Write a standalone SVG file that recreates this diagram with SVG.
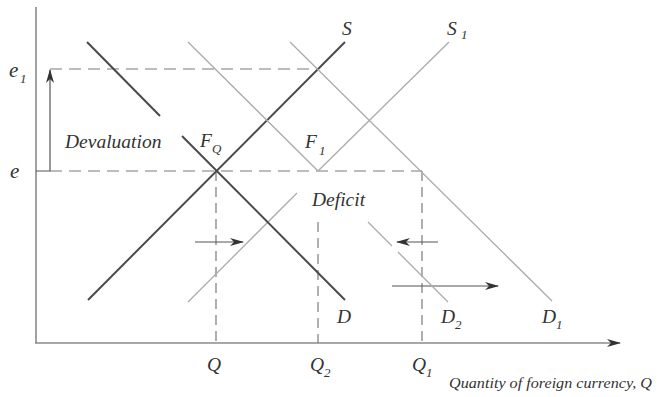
<svg xmlns="http://www.w3.org/2000/svg" width="658" height="397" viewBox="0 0 658 397">
<defs>
<marker id="ah" viewBox="0 0 14 8" refX="13" refY="4" markerWidth="14" markerHeight="8" markerUnits="userSpaceOnUse" orient="auto">
<path d="M0,0 L14,4 L0,8 L4,4 Z" fill="#333"/>
</marker>
</defs>
<style>
.axis{stroke:#8a8a8a;stroke-width:1.6;fill:none}
.dark{stroke:#4a4a4a;stroke-width:2;fill:none}
.light{stroke:#ababab;stroke-width:1.3;fill:none}
.dash{stroke:#7a7a7a;stroke-width:1.2;stroke-dasharray:12 7;fill:none}
.vdash{stroke:#7a7a7a;stroke-width:1.2;stroke-dasharray:10 6;fill:none}
.arr{stroke:#555;stroke-width:1.2;fill:none}
text{font-family:"Liberation Serif","Times New Roman",serif;font-style:italic;fill:#333}
.lab{font-size:19.5px}
.sub{font-size:13px}
</style>
<rect width="658" height="397" fill="#fff"/>
<g id="axes">
<line class="axis" x1="36" y1="7" x2="36" y2="343"/>
<line class="axis" x1="35" y1="343" x2="620" y2="343" marker-end="url(#ah)"/>
</g>
<g id="connectors">
<line class="dash" x1="50" y1="69" x2="319" y2="69"/>
<polyline class="arr" points="36,171 50,171 50,70" marker-end="url(#ah)"/>
<line class="dash" x1="50" y1="171" x2="422" y2="171"/>
<line class="vdash" x1="216" y1="171" x2="216" y2="343"/>
<line class="vdash" x1="318" y1="222" x2="318" y2="343"/>
<line class="vdash" x1="422" y1="171" x2="422" y2="343"/>
<line class="arr" x1="195" y1="242" x2="243" y2="242" marker-end="url(#ah)"/>
<line class="arr" x1="438" y1="242" x2="397" y2="242" marker-end="url(#ah)"/>
<line class="arr" x1="392" y1="286" x2="498" y2="286" marker-end="url(#ah)"/>
</g>
<g id="S">
<line class="dark" x1="88" y1="300" x2="345" y2="42"/>
<text class="lab" x="342" y="35">S</text>
</g>
<g id="S1">
<line class="light" x1="188" y1="302" x2="297" y2="193"/>
<line class="light" x1="318" y1="171" x2="449" y2="42"/>
<text class="lab" x="447" y="35">S</text><text class="sub" x="461" y="39">1</text>
</g>
<g id="D">
<line class="dark" x1="87" y1="42" x2="160" y2="116"/>
<line class="dark" x1="182" y1="136" x2="345" y2="300"/>
<text class="lab" x="337" y="323">D</text>
</g>
<g id="D1">
<line class="light" x1="290" y1="42" x2="552" y2="301"/>
<text class="lab" x="542" y="323">D</text><text class="sub" x="556" y="329">1</text>
</g>
<g id="D2">
<line class="light" x1="188" y1="42" x2="318" y2="171"/>
<line class="light" x1="368" y1="222" x2="392" y2="246"/>
<line class="light" x1="398" y1="252" x2="448" y2="302"/>
<text class="lab" x="441" y="323">D</text><text class="sub" x="455" y="329">2</text>
</g>
<g id="FQ">
<text class="lab" x="200" y="147">F</text><text class="sub" x="212" y="153">Q</text>
</g>
<g id="F1">
<text class="lab" x="305" y="148">F</text><text class="sub" x="319" y="155">1</text>
</g>
<g id="labels">
<text class="lab" x="65" y="148">Devaluation</text>
<text class="lab" x="312" y="206">Deficit</text>
<text class="lab" x="9" y="77" style="font-size:21px">e</text><text class="sub" x="20" y="83">1</text>
<text class="lab" x="10" y="178" style="font-size:21px">e</text>
<text class="lab" x="207" y="371">Q</text>
<text class="lab" x="310" y="371">Q</text><text class="sub" x="324" y="377">2</text>
<text class="lab" x="412" y="371">Q</text><text class="sub" x="426" y="377">1</text>
<text x="449" y="388" style="font-size:14.5px" textLength="203" lengthAdjust="spacingAndGlyphs">Quantity of foreign currency, Q</text>
</g>
</svg>
